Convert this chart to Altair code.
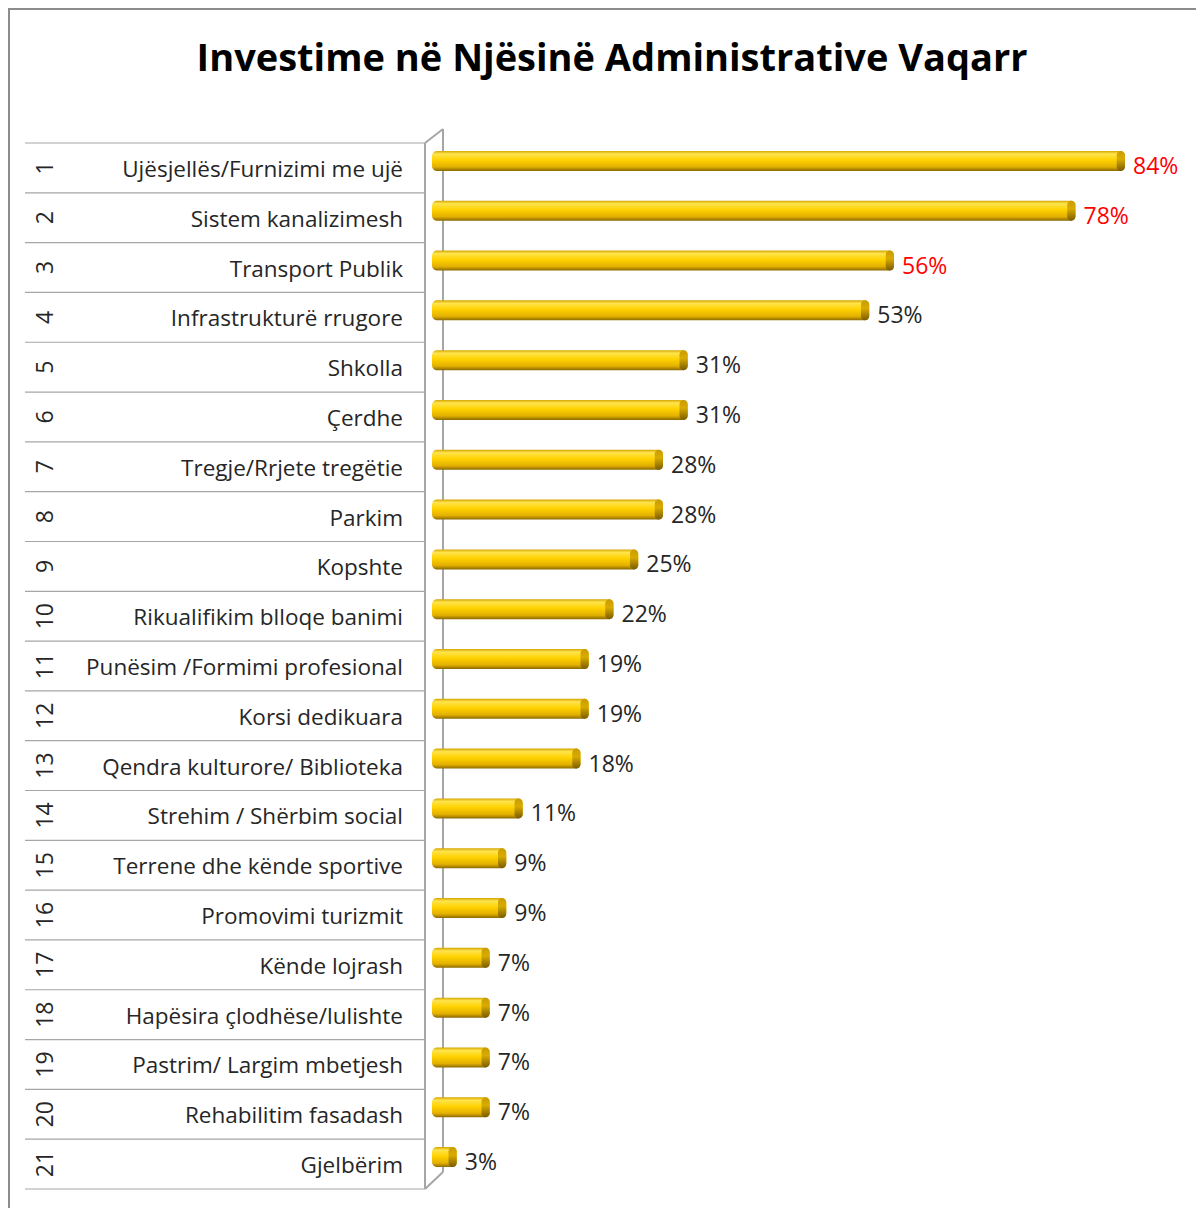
import altair as alt
import pandas as pd

title_text = "Investime në Njësinë Administrative Vaqarr"
categories = [
    "Ujësjellës/Furnizimi me ujë", "Sistem kanalizimesh", "Transport Publik",
    "Infrastrukturë rrugore", "Shkolla", "Çerdhe", "Tregje/Rrjete tregëtie",
    "Parkim", "Kopshte", "Rikualifikim blloqe banimi",
    "Punësim /Formimi profesional", "Korsi dedikuara",
    "Qendra kulturore/ Biblioteka", "Strehim / Shërbim social",
    "Terrene dhe kënde sportive", "Promovimi turizmit", "Kënde lojrash",
    "Hapësira çlodhëse/lulishte", "Pastrim/ Largim mbetjesh",
    "Rehabilitim fasadash", "Gjelbërim",
]
values = [84, 78, 56, 53, 31, 31, 28, 28, 25, 22, 19, 19, 18, 11, 9, 9, 7, 7, 7, 7, 3]
ranks = list(range(1, 22))

df = pd.DataFrame({"cat": categories, "value": values, "rank": ranks})
df["label"] = df["value"].astype(str) + "%"
df["cap0"] = df["value"] - 1.0
one = pd.DataFrame({"t": [title_text]})

FONT = "Open Sans"
GRAY = "#a6a6a6"

yscale = alt.Scale(domain=categories, range=[135, 1181], paddingInner=0, paddingOuter=0)
xscale = alt.Scale(domain=[0, 100], range=[424, 1249])

Y = alt.Y("cat:N", scale=yscale, axis=None, sort=categories)
base = alt.Chart(df)

# frame (top & left border)
frame_top = alt.Chart(one).mark_rule(color="#8c8c8c", strokeWidth=2).encode(
    x=alt.value(0), x2=alt.value(1188), y=alt.value(1))
frame_left = alt.Chart(one).mark_rule(color="#8c8c8c", strokeWidth=2).encode(
    x=alt.value(1), y=alt.value(0), y2=alt.value(1200))

title = alt.Chart(one).mark_text(font=FONT, fontSize=38, fontWeight="bold",
                                 color="black", align="center", baseline="middle").encode(
    text="t:N", x=alt.value(604), y=alt.value(52))

# table lines
row_lines = base.mark_rule(color=GRAY, strokeWidth=1.2).encode(
    y=alt.Y("cat:N", scale=yscale, axis=None, sort=categories, bandPosition=0),
    x=alt.value(17), x2=alt.value(417))
last_line = alt.Chart(df.tail(1)).mark_rule(color=GRAY, strokeWidth=1.2).encode(
    y=alt.Y("cat:N", scale=yscale, axis=None, sort=categories, bandPosition=1),
    x=alt.value(17), x2=alt.value(417))

# 3D wall
wall_style = dict(color=GRAY, strokeWidth=2)
wall_front = alt.Chart(one).mark_rule(**wall_style).encode(
    x=alt.value(417), y=alt.value(135), y2=alt.value(1181))
wall_back = alt.Chart(one).mark_rule(**wall_style).encode(
    x=alt.value(435), y=alt.value(121), y2=alt.value(1164))
wall_top = alt.Chart(one).mark_rule(**wall_style).encode(
    x=alt.value(417), x2=alt.value(435), y=alt.value(135), y2=alt.value(121))
wall_bot = alt.Chart(one).mark_rule(**wall_style).encode(
    x=alt.value(417), x2=alt.value(435), y=alt.value(1181), y2=alt.value(1164))

rank_text = base.mark_text(font=FONT, fontSize=23, color="#262626", angle=270,
                           align="center", baseline="middle").encode(
    y=Y, x=alt.value(38), text="rank:N")
cat_text = base.mark_text(font=FONT, fontSize=22.5, color="#262626",
                          align="right", baseline="middle", dy=2).encode(
    y=Y, x=alt.value(395), text="cat:N")

bar_grad = {
    "gradient": "linear", "x1": 0, "y1": 0, "x2": 0, "y2": 1,
    "stops": [
        {"offset": 0, "color": "#d4a500"},
        {"offset": 0.15, "color": "#ffe44d"},
        {"offset": 0.45, "color": "#ffd200"},
        {"offset": 0.8, "color": "#e3b000"},
        {"offset": 1, "color": "#8a6900"},
    ],
}
cap_grad = {
    "gradient": "linear", "x1": 0, "y1": 0, "x2": 0, "y2": 1,
    "stops": [
        {"offset": 0, "color": "#c99c00"},
        {"offset": 0.4, "color": "#d9ab00"},
        {"offset": 1, "color": "#7a5c00"},
    ],
}

bars = base.mark_bar(color=bar_grad, size=20, cornerRadius=5, yOffset=-7).encode(
    y=Y, x=alt.X("value:Q", scale=xscale, axis=None), x2=alt.datum(0))
caps = base.mark_bar(color=cap_grad, size=20, cornerRadius=5, yOffset=-7).encode(
    y=Y, x=alt.X("cap0:Q", scale=xscale, axis=None), x2="value:Q")

labels = base.mark_text(font=FONT, fontSize=23, align="left", baseline="middle",
                        dx=8, dy=-1).encode(
    y=Y, x=alt.X("value:Q", scale=xscale, axis=None), text="label:N",
    color=alt.condition(alt.datum.rank <= 3, alt.value("#ff0000"), alt.value("#262626")))

chart = alt.layer(
    frame_top, frame_left, title, row_lines, last_line,
    wall_back, wall_top, wall_bot,
    rank_text, cat_text, bars, caps, labels, wall_front,
).properties(
    width=1188, height=1200, padding=0, autosize=alt.AutoSizeParams(type="none")
).configure_view(stroke=None).resolve_scale(x="shared", y="shared")

chart.save("out.html", embed_options={"renderer": "svg", "actions": False})
